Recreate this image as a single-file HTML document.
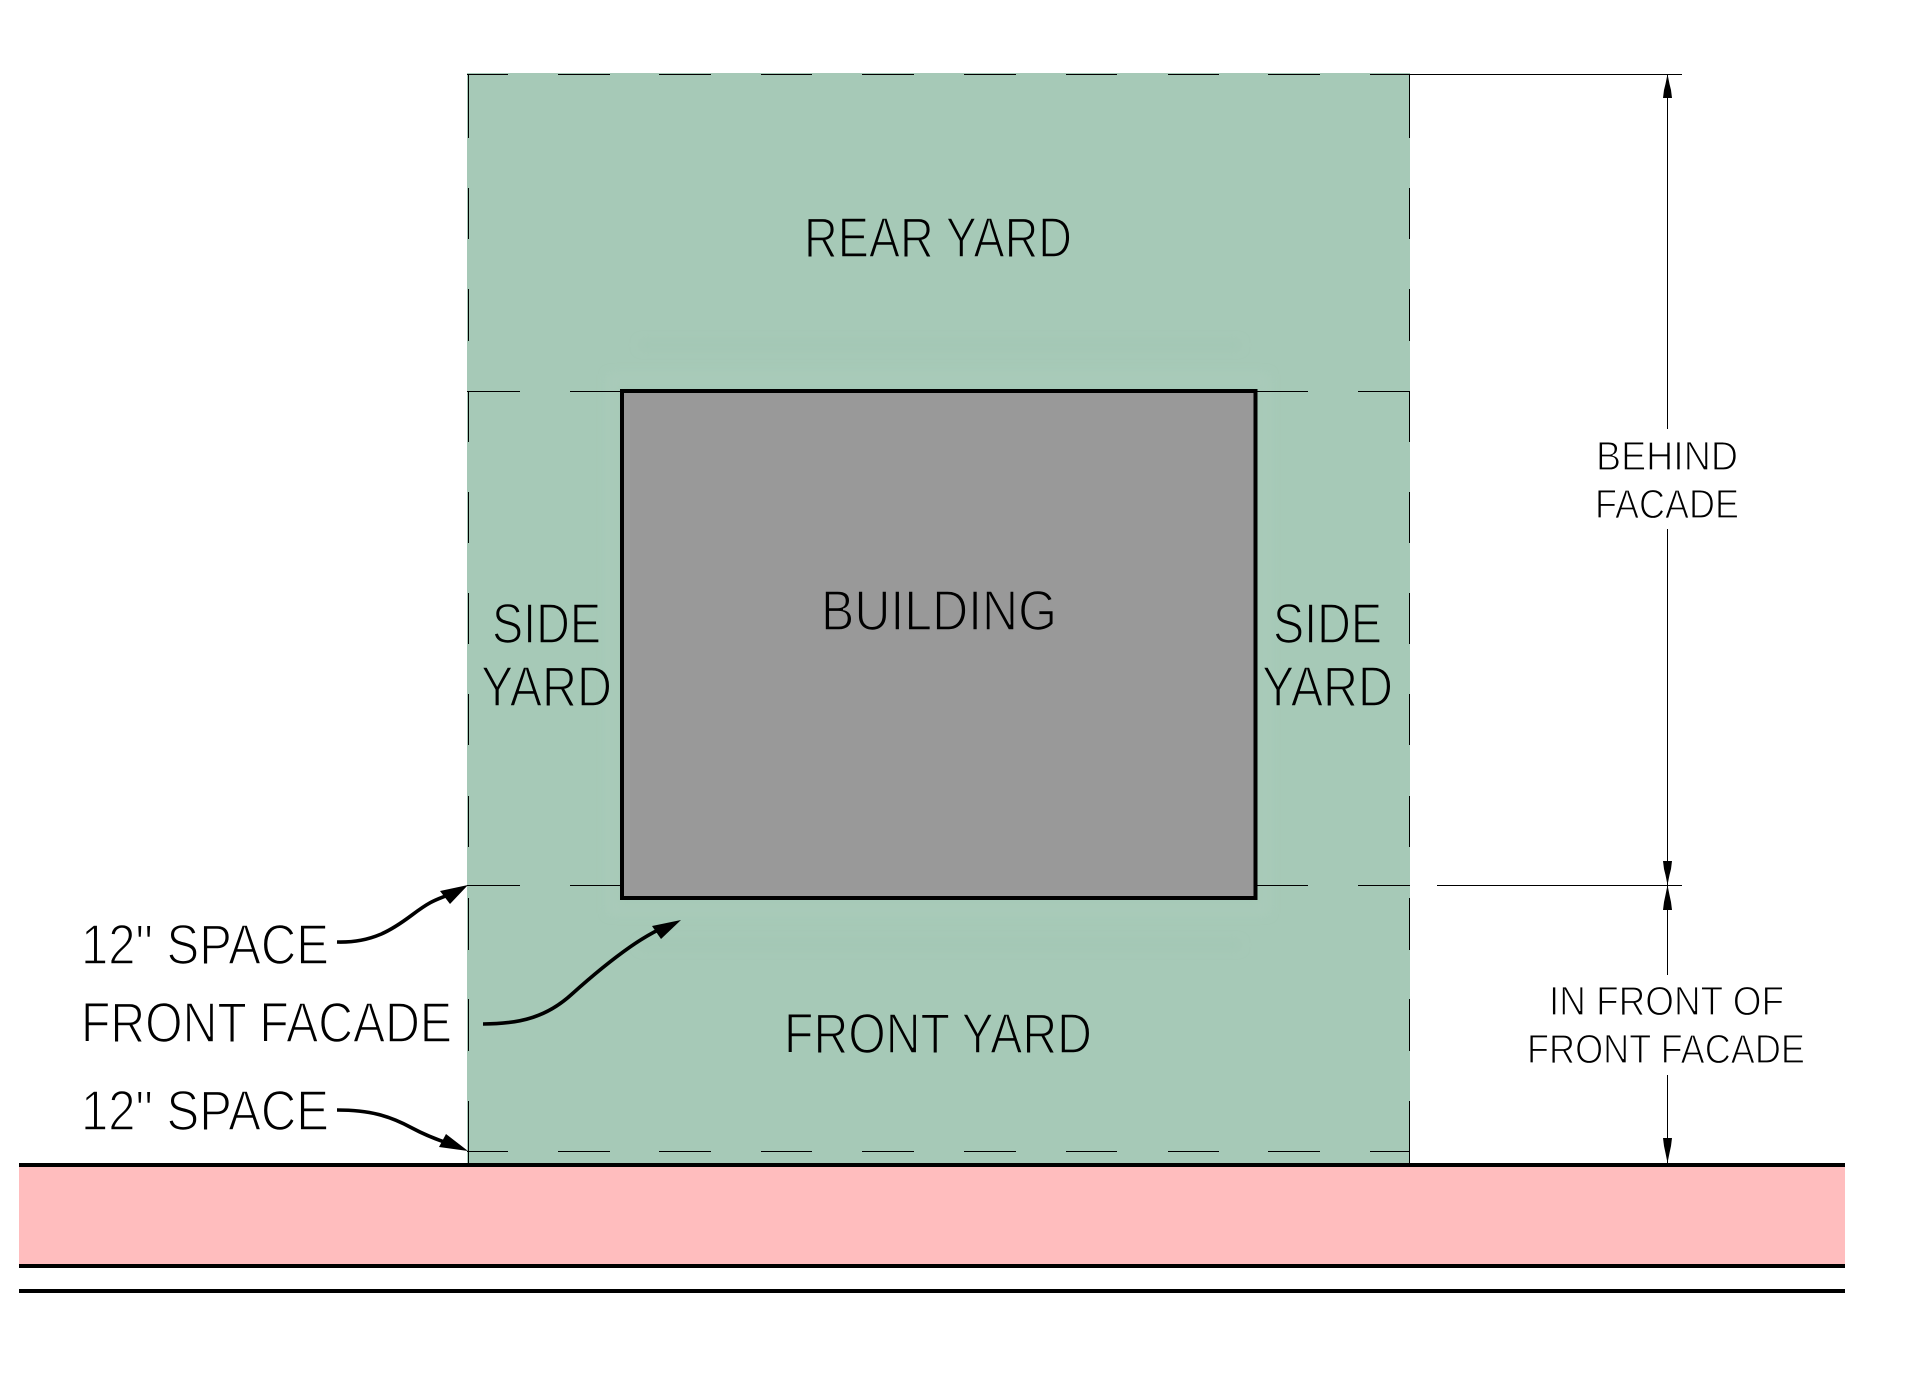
<!DOCTYPE html>
<html><head><meta charset="utf-8"><title>Yard diagram</title>
<style>
html,body{margin:0;padding:0;background:#fff}
svg{display:block}
text{font-family:"Liberation Sans",sans-serif;fill:#000}
.big{font-size:57px}
.sm{font-size:41px}
.g{stroke:#a6c9b7;stroke-width:1.6}
.y{stroke:#999;stroke-width:1.6}
.w{stroke:#fff;stroke-width:1.6}
.ws{stroke:#fff;stroke-width:1.2}
</style></head>
<body>
<svg xmlns="http://www.w3.org/2000/svg" width="1918" height="1379" viewBox="0 0 1918 1379">
<defs><filter id="b" x="-10%" y="-10%" width="120%" height="120%"><feGaussianBlur stdDeviation="5"/></filter></defs>
<rect width="1918" height="1379" fill="#fff"/>
<!-- yard -->
<rect x="467" y="73" width="943" height="1090" fill="#a6c9b7"/>
<!-- soft halo -->
<g filter="url(#b)" fill="none">
<rect x="612" y="378" width="653" height="532" stroke="#acccbc" stroke-width="7" opacity=".7"/>
<path d="M640 345H1240M640 945H1240" stroke="#a0c4b2" stroke-width="7" opacity=".6"/>
</g>
<!-- road -->
<rect x="19" y="1165" width="1826" height="101" fill="#ffbdbe"/>
<rect x="19" y="1163" width="1826" height="4" fill="#000"/>
<rect x="19" y="1264" width="1826" height="4" fill="#000"/>
<rect x="19" y="1289" width="1826" height="4" fill="#000"/>
<!-- building -->
<rect x="622" y="391" width="633.5" height="507" fill="#999" stroke="#000" stroke-width="4"/>
<!-- dashed lines -->
<g fill="#000">
<path d="M467 74h41v1h-41zM558 74h52v1h-52zM659 74h52v1h-52zM761 74h51v1h-51zM862 74h52v1h-52zM964 74h52v1h-52zM1066 74h51v1h-51zM1168 74h51v1h-51zM1268 74h52v1h-52zM1370 74h40v1h-40z"/>
<path d="M467 1151h41v1h-41zM558 1151h52v1h-52zM659 1151h52v1h-52zM761 1151h51v1h-51zM862 1151h52v1h-52zM964 1151h52v1h-52zM1066 1151h51v1h-51zM1168 1151h51v1h-51zM1268 1151h52v1h-52zM1370 1151h40v1h-40z"/>
<path d="M467 391h53v1h-53zM570 391h51v1h-51zM1257 391h51v1h-51zM1358 391h52v1h-52z"/>
<path d="M467 885h53v1h-53zM570 885h51v1h-51zM1257 885h51v1h-51zM1358 885h52v1h-52z"/>
<path d="M468 74h1v64h-1zM468 188h1v51h-1zM468 289h1v52h-1zM468 391h1v51h-1zM468 492h1v51h-1zM468 593h1v51h-1zM468 694h1v51h-1zM468 796h1v51h-1zM468 898h1v52h-1zM468 999h1v52h-1zM468 1101h1v62h-1z"/>
<path d="M1409 74h1v64h-1zM1409 188h1v51h-1zM1409 289h1v52h-1zM1409 391h1v51h-1zM1409 492h1v51h-1zM1409 593h1v51h-1zM1409 694h1v51h-1zM1409 796h1v51h-1zM1409 898h1v52h-1zM1409 999h1v52h-1zM1409 1101h1v62h-1z"/>
<rect x="1410" y="74" width="272" height="1"/>
<rect x="1437" y="885" width="245" height="1"/>
<rect x="1667" y="74" width="1" height="355"/>
<rect x="1667" y="529" width="1" height="446"/>
<rect x="1667" y="1075" width="1" height="88"/>
<polygon points="1667.5,74 1669.5,84 1671,90 1672,98 1663,98 1664,90 1665.5,84"/>
<polygon points="1667.5,885 1669.5,875 1671,869 1672,861 1663,861 1664,869 1665.5,875"/>
<polygon points="1667.5,885 1669.5,895 1671,902 1672,910 1663,910 1664,902 1665.5,895"/>
<polygon points="1667.5,1163 1669.5,1153 1671,1146 1672,1138 1663,1138 1664,1146 1665.5,1153"/>
<polygon points="468,885 450,904 440,891"/>
<polygon points="681,920 661,939 652,926"/>
<polygon points="468,1151 439,1147 446,1134"/>
</g>
<!-- leaders -->
<g fill="none" stroke="#000" stroke-width="3.6">
<path d="M337 942C372 943 392 930 412 915S436 900 448 895"/>
<path d="M483 1024C522 1024 548 1016 572 994C592 976 610 961 630 947C640 940 650 934 660 929"/>
<path d="M337 1110C370 1110 390 1116 412 1128C425 1135 435 1139 450 1144"/>
</g>
<!-- labels -->
<text class="big g" x="804" y="257" textLength="268" lengthAdjust="spacingAndGlyphs">REAR YARD</text>
<text class="big y" x="821" y="630" textLength="236" lengthAdjust="spacingAndGlyphs">BUILDING</text>
<text class="big g" x="492" y="643" textLength="109" lengthAdjust="spacingAndGlyphs">SIDE</text>
<text class="big g" x="481" y="706" textLength="131" lengthAdjust="spacingAndGlyphs">YARD</text>
<text class="big g" x="1273" y="643" textLength="109" lengthAdjust="spacingAndGlyphs">SIDE</text>
<text class="big g" x="1262" y="706" textLength="131" lengthAdjust="spacingAndGlyphs">YARD</text>
<text class="big g" x="784" y="1053" textLength="308" lengthAdjust="spacingAndGlyphs">FRONT YARD</text>
<text class="big w" x="81" y="964" textLength="248" lengthAdjust="spacingAndGlyphs">12" SPACE</text>
<text class="big w" x="81" y="1042" textLength="371" lengthAdjust="spacingAndGlyphs">FRONT FACADE</text>
<text class="big w" x="81" y="1130" textLength="248" lengthAdjust="spacingAndGlyphs">12" SPACE</text>
<text class="sm ws" x="1596" y="470" textLength="142" lengthAdjust="spacingAndGlyphs">BEHIND</text>
<text class="sm ws" x="1595" y="518" textLength="144" lengthAdjust="spacingAndGlyphs">FACADE</text>
<text class="sm ws" x="1549" y="1015" textLength="235" lengthAdjust="spacingAndGlyphs">IN FRONT OF</text>
<text class="sm ws" x="1527" y="1063" textLength="278" lengthAdjust="spacingAndGlyphs">FRONT FACADE</text>
</svg>
</body></html>
